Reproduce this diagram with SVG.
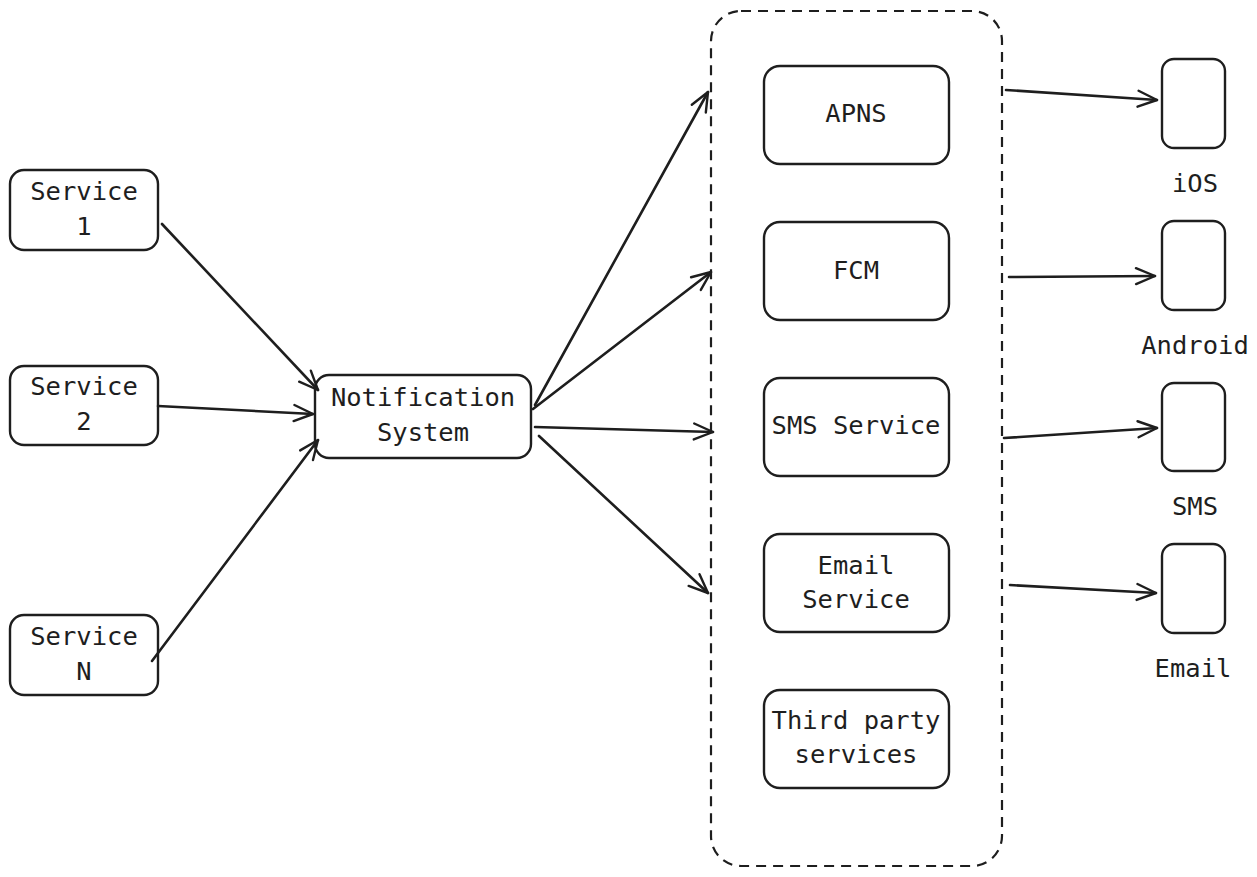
<svg xmlns="http://www.w3.org/2000/svg" width="1257" height="877" viewBox="0 0 1257 877">
<style>
.box{fill:#fff;stroke:#1e1e1e;stroke-width:2.4}
.dev{fill:none;stroke:#1e1e1e;stroke-width:2.4}
.cont{fill:none;stroke:#1e1e1e;stroke-width:2.2;stroke-dasharray:10 7}
.t{font-family:"DejaVu Sans Mono","Liberation Mono",monospace;font-size:25.5px;fill:#1e1e1e;text-anchor:middle}
.c{fill:none;stroke:#1e1e1e;stroke-width:2.6;stroke-linecap:round}
</style>
<defs>
<marker id="ah" viewBox="0 0 24 24" refX="22" refY="12" markerWidth="24" markerHeight="24" markerUnits="userSpaceOnUse" orient="auto">
<path d="M3 4 L22 12 L3 20" fill="none" stroke="#1e1e1e" stroke-width="2.4" stroke-linecap="round" stroke-linejoin="round"/>
</marker>
</defs>
<rect x="0" y="0" width="1257" height="877" fill="#fff"/>
<g id="container"><rect class="cont" x="711" y="11" width="291" height="855" rx="30"/></g>
<g id="service1"><rect class="box" x="10" y="170" width="148" height="80" rx="14"/><text class="t" x="84" y="200">Service</text><text class="t" x="84" y="235">1</text></g>
<g id="service2"><rect class="box" x="10" y="366" width="148" height="79" rx="14"/><text class="t" x="84" y="395">Service</text><text class="t" x="84" y="430">2</text></g>
<g id="serviceN"><rect class="box" x="10" y="615" width="148" height="80" rx="14"/><text class="t" x="84" y="645">Service</text><text class="t" x="84" y="680">N</text></g>
<g id="notification"><rect class="box" x="315" y="375" width="216" height="83" rx="14"/><text class="t" x="423" y="406">Notification</text><text class="t" x="423" y="441">System</text></g>
<g id="apns"><rect class="box" x="764" y="66" width="185" height="98" rx="16"/><text class="t" x="856" y="122">APNS</text></g>
<g id="fcm"><rect class="box" x="764" y="222" width="185" height="98" rx="16"/><text class="t" x="856" y="279">FCM</text></g>
<g id="sms"><rect class="box" x="764" y="378" width="185" height="98" rx="16"/><text class="t" x="856" y="434">SMS Service</text></g>
<g id="email"><rect class="box" x="764" y="534" width="185" height="98" rx="16"/><text class="t" x="856" y="574">Email</text><text class="t" x="856" y="608">Service</text></g>
<g id="third"><rect class="box" x="764" y="690" width="185" height="98" rx="16"/><text class="t" x="856" y="729">Third party</text><text class="t" x="856" y="763">services</text></g>
<g id="ios"><rect class="dev" x="1162" y="59" width="63" height="89" rx="12"/><text class="t" x="1195" y="192">iOS</text></g>
<g id="android"><rect class="dev" x="1162" y="221" width="63" height="89" rx="12"/><text class="t" x="1195" y="354">Android</text></g>
<g id="smsdev"><rect class="dev" x="1162" y="383" width="63" height="88" rx="12"/><text class="t" x="1195" y="515">SMS</text></g>
<g id="emaildev"><rect class="dev" x="1162" y="544" width="63" height="89" rx="12"/><text class="t" x="1193" y="677">Email</text></g>
<g id="connectors">
<path class="c" marker-end="url(#ah)" d="M162 224 L318 390"/>
<path class="c" marker-end="url(#ah)" d="M158 406 L313 414"/>
<path class="c" marker-end="url(#ah)" d="M152 661 L318 440"/>
<path class="c" marker-end="url(#ah)" d="M535 405 L708 92"/>
<path class="c" marker-end="url(#ah)" d="M533 409 L711 272"/>
<path class="c" marker-end="url(#ah)" d="M535 427 L713 432"/>
<path class="c" marker-end="url(#ah)" d="M539 436 L708 593"/>
<path class="c" marker-end="url(#ah)" d="M1006 90 L1157 100"/>
<path class="c" marker-end="url(#ah)" d="M1009 277 L1155 276"/>
<path class="c" marker-end="url(#ah)" d="M1004 438 L1157 428"/>
<path class="c" marker-end="url(#ah)" d="M1010 585 L1156 593"/>
</g>
</svg>
